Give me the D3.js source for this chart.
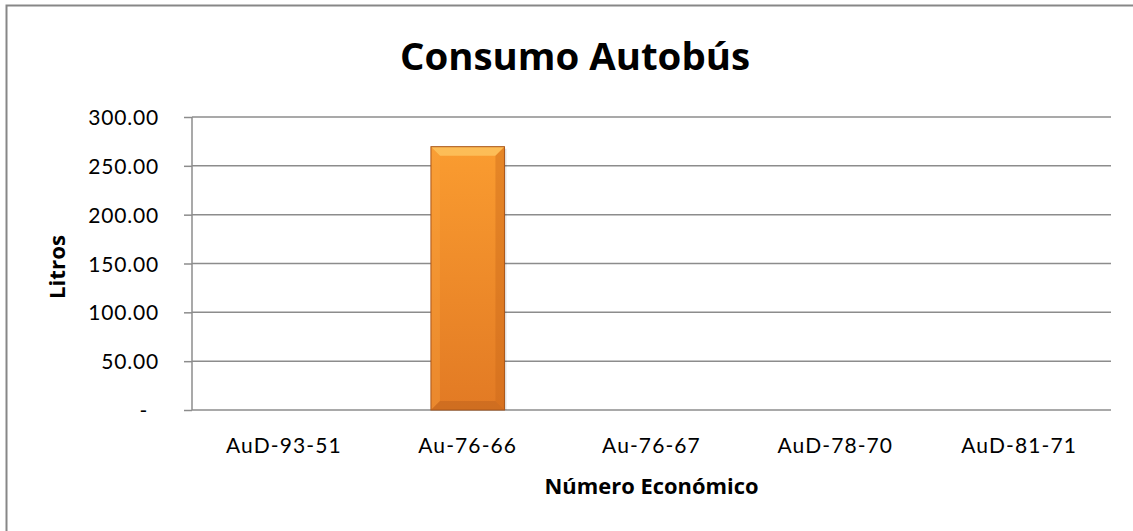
<!DOCTYPE html>
<html>
<head>
<meta charset="utf-8">
<script src="https://cdn.jsdelivr.net/npm/d3@7"></script>
<style>
  html, body { margin: 0; padding: 0; background: #fff; }
  svg { display: block; }
</style>
</head>
<body>
<svg id="chart" width="1133" height="531"></svg>
<script>
const categories = ["AuD-93-51", "Au-76-66", "Au-76-67", "AuD-78-70", "AuD-81-71"];
const litros = [0, 269.6, 0, 0, 0];
const yTicks = [0, 50, 100, 150, 200, 250, 300];
const title = "Consumo Autobús";
const xTitle = "Número Económico";
const yTitle = "Litros";

const svg = d3.select("#chart");
const plot = { left: 192, right: 1111, top: 117, bottom: 410 };

// outer chart border
svg.append("rect")
  .attr("x", 6.5).attr("y", 5.5)
  .attr("width", 1140).attr("height", 540)
  .attr("fill", "#fff").attr("stroke", "#878787").attr("stroke-width", 2);

const defs = svg.append("defs");
const g1 = defs.append("linearGradient").attr("id", "barGrad")
  .attr("x1", 0).attr("y1", 0).attr("x2", 0).attr("y2", 1);
g1.append("stop").attr("offset", "0%").attr("stop-color", "#FA9C30");
g1.append("stop").attr("offset", "100%").attr("stop-color", "#E27A24");

const x = d3.scaleBand().domain(categories)
  .range([plot.left, plot.right]).paddingInner(0.6).paddingOuter(0.3);
const y = d3.scaleLinear().domain([0, 300]).range([plot.bottom, plot.top]);

// gridlines
svg.append("g").selectAll("line").data(yTicks).join("line")
  .attr("x1", plot.left).attr("x2", plot.right)
  .attr("y1", d => y(d)).attr("y2", d => y(d))
  .attr("stroke", "#8c8c8c").attr("stroke-width", 1.5);

// bars
const bars = svg.append("g").selectAll("g")
  .data(categories.map((c, i) => ({ c, v: litros[i] })).filter(d => d.v > 0)).join("g");
bars.each(function(d) {
  const g = d3.select(this);
  const bx = x(d.c), bw = x.bandwidth(), by = y(d.v), bh = y(0) - y(d.v);
  const b = 9;
  g.append("rect").attr("x", bx + 2).attr("y", by + 2).attr("width", bw).attr("height", bh - 2)
    .attr("fill", "#000").attr("opacity", 0.12);
  g.append("rect").attr("x", bx).attr("y", by).attr("width", bw).attr("height", bh)
    .attr("fill", "url(#barGrad)");
  g.append("path").attr("d", `M${bx},${by} L${bx + bw},${by} L${bx + bw - b},${by + b} L${bx + b},${by + b} Z`)
    .attr("fill", "#FDC35E").attr("opacity", 0.85);
  g.append("path").attr("d", `M${bx},${by} L${bx + b},${by + b} L${bx + b},${by + bh - b} L${bx},${by + bh} Z`)
    .attr("fill", "#F8A23E").attr("opacity", 0.35);
  g.append("path").attr("d", `M${bx + bw},${by} L${bx + bw - b},${by + b} L${bx + bw - b},${by + bh - b} L${bx + bw},${by + bh} Z`)
    .attr("fill", "#C8661A").attr("opacity", 0.4);
  g.append("path").attr("d", `M${bx},${by + bh} L${bx + b},${by + bh - b} L${bx + bw - b},${by + bh - b} L${bx + bw},${by + bh} Z`)
    .attr("fill", "#B8601C").attr("opacity", 0.45);
  g.append("rect").attr("x", bx).attr("y", by).attr("width", bw).attr("height", bh)
    .attr("fill", "none").attr("stroke", "#A9561A").attr("stroke-width", 1);
});

// y axis
const yAxis = svg.append("g").attr("transform", `translate(${plot.left},0)`)
  .call(d3.axisLeft(y).tickValues(yTicks).tickSize(8).tickPadding(25)
    .tickFormat(d => d === 0 ? "-" : d3.format(".2f")(d)));
yAxis.select(".domain").attr("stroke", "#8c8c8c").attr("stroke-width", 1.5).attr("d", `M0,${plot.top}V${plot.bottom}`);
yAxis.selectAll(".tick line").attr("stroke", "#8c8c8c").attr("stroke-width", 1.5);
yAxis.selectAll(".tick text").attr("font-size", 21).style("font-family", "Lato, sans-serif").attr("fill", "#000")
  .attr("dy", "0.36em").attr("letter-spacing", 0.8)
  .filter(d => d === 0).attr("dx", -11);

// x axis
const xAxis = svg.append("g").attr("transform", `translate(0,${plot.bottom})`)
  .call(d3.axisBottom(x).tickSize(0).tickPadding(28));
xAxis.select(".domain").remove();
xAxis.selectAll(".tick text").attr("font-size", 21).style("font-family", "Lato, sans-serif").attr("fill", "#000")
  .attr("letter-spacing", 1.1);

// titles
svg.append("text").attr("x", 575).attr("y", 70).attr("text-anchor", "middle")
  .style("font-family", "'Open Sans', sans-serif")
  .attr("font-size", 38).attr("font-weight", "bold")
  .attr("textLength", 350).attr("lengthAdjust", "spacingAndGlyphs").text(title);
svg.append("text").attr("x", (plot.left + plot.right) / 2).attr("y", 494).attr("text-anchor", "middle")
  .style("font-family", "'Open Sans', sans-serif")
  .attr("font-size", 21).attr("font-weight", "bold")
  .attr("textLength", 214).attr("lengthAdjust", "spacingAndGlyphs").text(xTitle);
svg.append("text").attr("transform", `translate(65,267) rotate(-90)`).attr("text-anchor", "middle")
  .style("font-family", "'Open Sans', sans-serif")
  .attr("font-size", 21).attr("font-weight", "bold")
  .attr("textLength", 64).attr("lengthAdjust", "spacingAndGlyphs").text(yTitle);
</script>
</body>
</html>
